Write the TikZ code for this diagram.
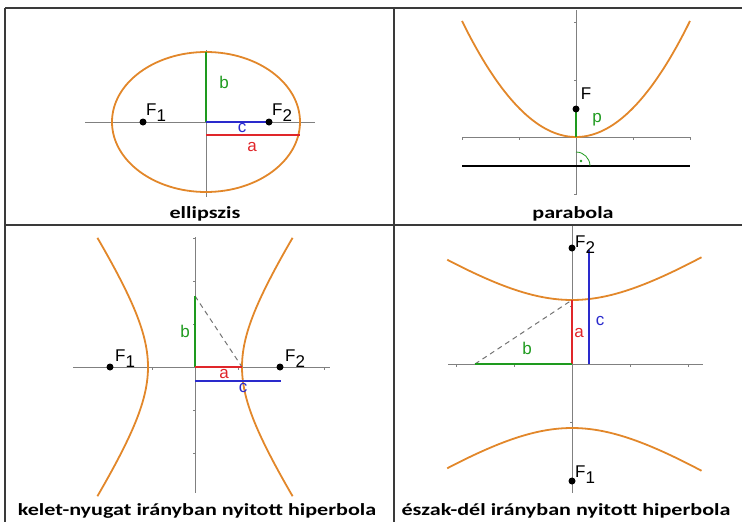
\documentclass[tikz,border=0pt]{standalone}
\usepackage{fontspec}
\setmainfont{Carlito}
\newfontfamily\lblfont{Liberation Sans}
\usetikzlibrary{positioning,calc}
\definecolor{kpcurve}{HTML}{E2872A}
\definecolor{kpgreen}{HTML}{1E9A1E}
\definecolor{kpred}{HTML}{E0262A}
\definecolor{kpblue}{HTML}{2A2ACC}
\definecolor{kpaxis}{HTML}{808080}
\definecolor{kpframe}{HTML}{3A3A3A}
\newcommand{\fsub}[1]{F\raisebox{-6pt}{#1}}
\newcommand{\captext}[1]{\scalebox{1.3}[1]{\bfseries #1}}

\begin{document}
\begin{tikzpicture}[
      x=1pt, y=1pt,
      frame/.style={draw=kpframe, line width=1.5pt},
      axis/.style={draw=kpaxis, line width=1pt},
      tick/.style={draw=kpaxis, line width=0.6pt},
      curve/.style={draw=kpcurve, line width=1.8pt},
      seg/.style={line width=1.8pt},
      helper/.style={draw=kpaxis!90!black, dash pattern=on 5pt off 4pt, line width=1pt},
      focus/.style={circle, fill=black, inner sep=0pt, minimum size=7pt},
      lbl/.style={font=\lblfont\fontsize{17}{17}\selectfont, inner sep=0pt},
      caption/.style={font=\fontsize{17}{17}\selectfont, inner sep=0pt, anchor=base}
    ]
      \useasboundingbox (0,0) rectangle (742,-522);

      % Table
      \draw[frame] (5,-8) -- (742,-8);
      \draw[frame] (5,-8) -- (5,-522);
      \draw[frame] (394,-8) -- (394,-522);
      \draw[frame] (5,-225) -- (742,-225);

      % Ellipse
      \begin{scope}[shift={(206,-122)}]
        \draw[axis] (-121,0) -- (109,0);
        \draw[axis] (0,72) -- (0,-75);
        \draw[curve] (0,0) ellipse [x radius=94, y radius=70];
        \coordinate (eo) at (0,0);
        \coordinate (eb) at (0,70);
        \coordinate (ef1) at (-63,0);
        \coordinate (ef2) at (63,0);
        \coordinate (ea1) at (0,-13);
        \coordinate (ea2) at (94,-13);
        \draw[seg, kpgreen] (eo) -- (eb);
        \draw[seg, kpblue] (eo) -- (ef2);
        \draw[seg, kpred] (ea1) -- (ea2);
        \node[focus] (ef1dot) at (ef1) {};
        \node[focus] (ef2dot) at (ef2) {};
        \node[lbl, anchor=base west] (ef1lbl) at (-60,7) {\fsub{1}};
        \node[lbl, anchor=base west] (ef2lbl) at (66,7) {\fsub{2}};
        \node[lbl, kpgreen] (eblbl) at (18,40) {b};
        \node[lbl, kpblue] (eclbl) at (36,-6) {c};
        \node[lbl, kpred] (ealbl) at (46,-25) {a};
        \node[caption] (capellipse) at (-1,-96) {\captext{ellipszis}};
      \end{scope}

      % Parabola
      \begin{scope}[shift={(576,-137)}]
        \draw[axis] (-114,0) -- (114,0);
        \draw[axis] (0,127) -- (0,-58);
        \foreach \t in {-114,-57,57,114}
          \draw[tick] (\t,0) -- (\t,-2.5);
        \foreach \t in {-57,57,115}
          \draw[tick] (0,\t) -- (-2.5,\t);
        \draw[curve] plot[domain=-114:114, samples=80] (\x, {\x*\x/112});
        \coordinate (pv) at (0,0);
        \coordinate (pf) at (0,28);
        \coordinate (pd1) at (-114,-29);
        \coordinate (pd2) at (114,-29);
        \coordinate (pfoot) at (0,-29);
        \draw[line width=2pt] (pd1) -- (pd2);
        \draw[seg, kpgreen] (pv) -- (pf);
        \draw[kpgreen, line width=0.8pt] ([xshift=14pt]pfoot) arc[start angle=0, end angle=90, radius=14];
        \fill[kpgreen] ($(pfoot)+(5,5)$) circle[radius=1.3];
        \node[focus] (pfdot) at (pf) {};
        \node[lbl] (pflbl) at (10,43) {F};
        \node[lbl, kpgreen] (pplbl) at (21,17) {p};
        \node[caption] (capparabola) at (-3,-81) {\captext{parabola}};
      \end{scope}

      % Hyperbola, east-west
      \begin{scope}[shift={(195,-367)}]
        \draw[axis] (-122,0) -- (135,0);
        \draw[axis] (0,130) -- (0,-126);
        \foreach \t in {-43,43,129}
          \draw[tick] (\t,0) -- (\t,-2.5);
        \foreach \t in {-86,-43,43,86,129}
          \draw[tick] (0,\t) -- (-2.5,\t);
        \draw[curve] plot[domain=-1.36:1.36, samples=60] ({47*cosh(\x)}, {71*sinh(\x)});
        \draw[curve] plot[domain=-1.36:1.36, samples=60] ({-47*cosh(\x)}, {71*sinh(\x)});
        \coordinate (wo) at (0,0);
        \coordinate (wb) at (0,71);
        \coordinate (wa) at (47,0);
        \coordinate (wf1) at (-85,0);
        \coordinate (wf2) at (85,0);
        \coordinate (wc1) at (0,-14);
        \coordinate (wc2) at (86,-14);
        \draw[helper] (wb) -- (wa);
        \draw[seg, kpgreen] (wo) -- (wb);
        \draw[seg, kpred] (wo) -- (wa);
        \draw[seg, kpblue] (wc1) -- (wc2);
        \node[focus] (wf1dot) at (wf1) {};
        \node[focus] (wf2dot) at (wf2) {};
        \node[lbl, anchor=base west] (wf1lbl) at (-80,6) {\fsub{1}};
        \node[lbl, anchor=base west] (wf2lbl) at (90,6) {\fsub{2}};
        \node[lbl, kpgreen] (wblbl) at (-10,36) {b};
        \node[lbl, kpred] (walbl) at (29,-7) {a};
        \node[lbl, kpblue] (wclbl) at (48,-21) {c};
        \node[caption] (capeastwest) at (2,-148) {\captext{kelet-nyugat irányban nyitott hiperbola}};
      \end{scope}

      % Hyperbola, north-south
      \begin{scope}[shift={(572,-364)}]
        \draw[axis] (-124,0) -- (131,0);
        \draw[axis] (0,138) -- (0,-129);
        \foreach \t in {-116,-58,58,116}
          \draw[tick] (\t,0) -- (\t,-2.5);
        \foreach \t in {-58,58}
          \draw[tick] (0,\t) -- (-2.5,\t);
        \draw[curve] plot[domain=-1.07:1.1, samples=60] ({97*sinh(\x)}, {64*cosh(\x)});
        \draw[curve] plot[domain=-1.07:1.1, samples=60] ({97*sinh(\x)}, {-64*cosh(\x)});
        \coordinate (no) at (0,0);
        \coordinate (na) at (0,64);
        \coordinate (nb) at (-97,0);
        \coordinate (nf1) at (0,-117);
        \coordinate (nf2) at (0,116);
        \coordinate (nc1) at (17,0);
        \coordinate (nc2) at (17,114);
        \draw[helper] (nb) -- (na);
        \draw[seg, kpred] (no) -- (na);
        \draw[seg, kpgreen] (nb) -- (no);
        \draw[seg, kpblue] (nc1) -- (nc2);
        \node[focus] (nf1dot) at (nf1) {};
        \node[focus] (nf2dot) at (nf2) {};
        \node[lbl, anchor=base west] (nf2lbl) at (3,117) {\fsub{2}};
        \node[lbl, anchor=base west] (nf1lbl) at (3,-113) {\fsub{1}};
        \node[lbl, kpred] (nalbl) at (7,31) {a};
        \node[lbl, kpblue] (nclbl) at (28,43) {c};
        \node[lbl, kpgreen] (nblbl) at (-45,16) {b};
        \node[caption] (capnorthsouth) at (-6,-151) {\captext{észak-dél irányban nyitott hiperbola}};
      \end{scope}
    \end{tikzpicture}
\end{document}
